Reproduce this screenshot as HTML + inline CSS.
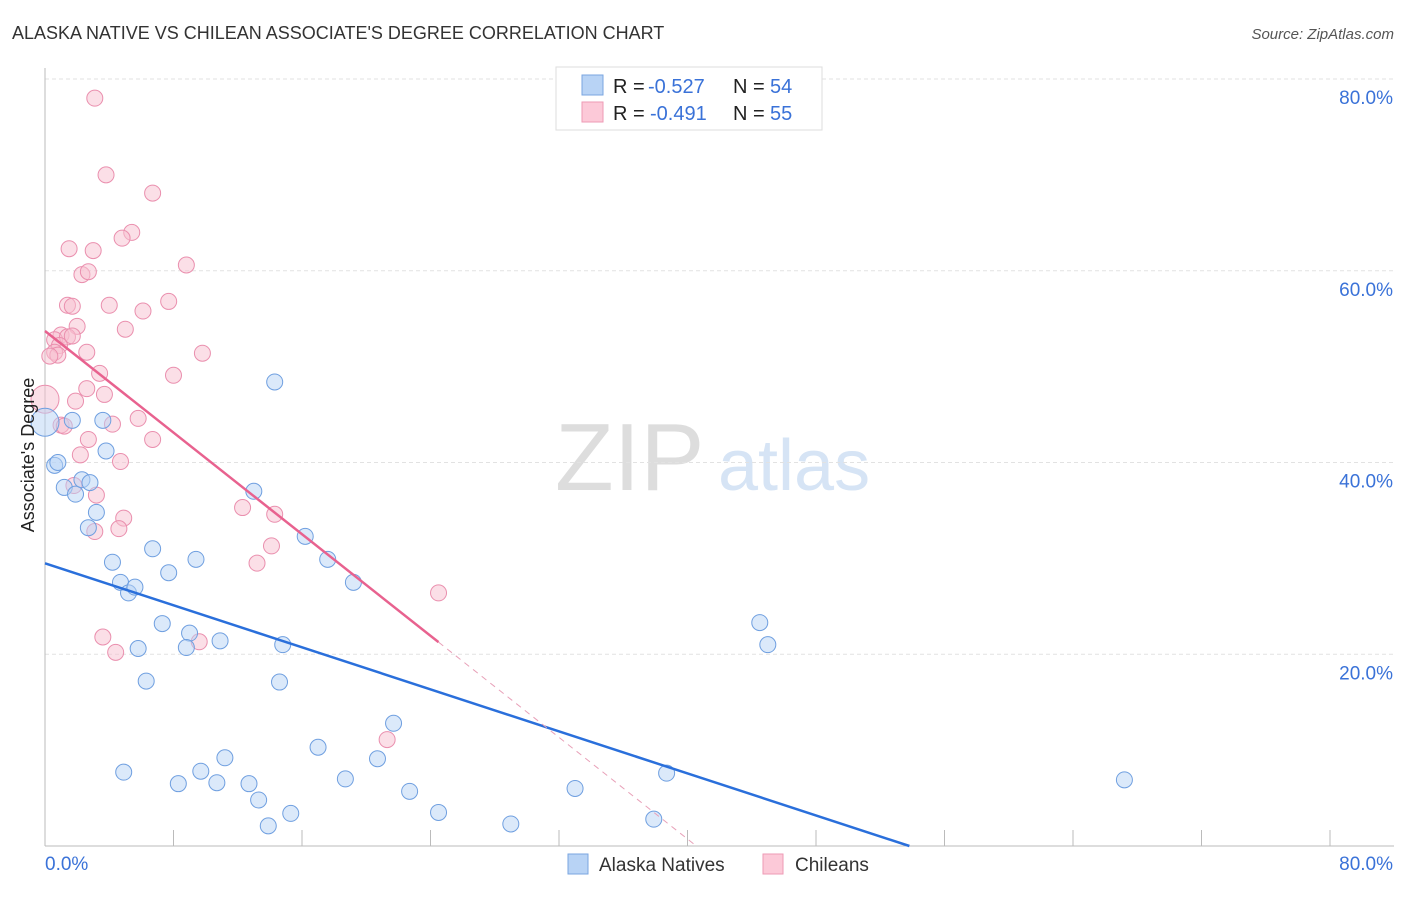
<!DOCTYPE html>
<html><head><meta charset="utf-8"><style>
body{margin:0;background:#fff;font-family:"Liberation Sans",sans-serif;}
svg text{font-family:"Liberation Sans",sans-serif;}
</style></head><body>
<svg id="chart" width="1406" height="892">
<text x="12" y="39" font-size="18" fill="#333">ALASKA NATIVE VS CHILEAN ASSOCIATE'S DEGREE CORRELATION CHART</text>
<text x="1394" y="39" font-size="15" fill="#555" text-anchor="end" font-style="italic">Source: ZipAtlas.com</text>
<text x="555" y="490" font-size="96" fill="#ddd" font-family="Liberation Serif">ZIP</text>
<text x="718" y="490" font-size="72" fill="#d6e4f5">atlas</text>
<g id="grid"></g><g id="marks"></g>
<text x="34" y="455" font-size="18" fill="#222" text-anchor="middle" transform="rotate(-90 34 455)">Associate's Degree</text>
<g>
<rect x="556" y="67" width="266" height="63" fill="#fff" stroke="#ddd"/>
<rect x="582" y="75" width="21" height="20" fill="#b8d3f5" stroke="#7aa6e0"/>
<rect x="582" y="102" width="21" height="20" fill="#fcc9d8" stroke="#ee9ab5"/>
<text x="613" y="93" font-size="20" fill="#222">R =</text>
<text x="648" y="93" font-size="20" fill="#3a72d8">-0.527</text>
<text x="733" y="93" font-size="20" fill="#222">N =</text>
<text x="770" y="93" font-size="20" fill="#3a72d8">54</text>
<text x="613" y="120" font-size="20" fill="#222">R =</text>
<text x="650" y="120" font-size="20" fill="#3a72d8">-0.491</text>
<text x="733" y="120" font-size="20" fill="#222">N =</text>
<text x="770" y="120" font-size="20" fill="#3a72d8">55</text>
</g>
<g>
<rect x="568" y="854" width="20" height="20" fill="#b8d3f5" stroke="#7aa6e0"/>
<text x="599" y="871" font-size="19" fill="#333">Alaska Natives</text>
<rect x="763" y="854" width="20" height="20" fill="#fcc9d8" stroke="#ee9ab5"/>
<text x="795" y="871" font-size="19" fill="#333">Chileans</text>
</g>
</svg>
<script>
const yTicks=[20,40,60,80];
const xTickLabels=["0.0%","80.0%"];
const blueX=[0,0.6,0.8,1.2,1.7,1.9,2.3,2.8,2.7,3.2,3.6,3.8,4.2,4.7,5.2,5.6,5.8,6.3,6.7,7.3,7.7,9.0,8.8,9.4,10.9,4.9,8.3,9.7,10.7,11.2,12.7,13.3,13.9,13.0,14.3,14.8,14.6,16.2,17.6,19.2,17.0,18.7,20.7,21.7,22.7,24.5,29.0,33.0,37.9,38.7,44.5,45.0,67.2,15.3];
const blueY=[44.2,39.7,40.0,37.4,44.4,36.7,38.2,37.9,33.2,34.8,44.4,41.2,29.6,27.5,26.4,27.0,20.6,17.2,31.0,23.2,28.5,22.2,20.7,29.9,21.4,7.7,6.5,7.8,6.6,9.2,6.5,4.8,2.1,37.0,48.4,21.0,17.1,32.3,29.9,27.5,10.3,7.0,9.1,12.8,5.7,3.5,2.3,6.0,2.8,7.6,23.3,21.0,6.9,3.4];
const pinkX=[3.1,3.8,6.7,1.5,3.0,5.4,4.8,8.8,2.3,2.7,1.4,1.7,4.0,6.1,7.7,5.0,2.0,1.0,0.6,1.4,1.7,0.9,0.6,0.8,2.6,9.8,8.0,3.4,1.9,3.7,2.6,5.8,4.2,1.0,2.7,6.7,2.2,4.7,1.8,3.2,4.9,3.1,4.6,12.3,14.3,14.1,13.2,3.6,4.4,9.6,24.5,21.3,0,0.3,1.2];
const pinkY=[78.0,70.0,68.1,62.3,62.1,64.0,63.4,60.6,59.6,59.9,56.4,56.3,56.4,55.8,56.8,53.9,54.2,53.3,52.8,53.1,53.2,52.2,51.5,51.2,51.5,51.4,49.1,49.3,46.4,47.1,47.7,44.6,44.0,43.9,42.4,42.4,40.8,40.1,37.6,36.6,34.2,32.8,33.1,35.3,34.6,31.3,29.5,21.8,20.2,21.3,26.4,11.1,46.6,51.1,43.8];
const x0=45,x1=1330,yb=846,yt=79;
const sx=v=>x0+(x1-x0)*v/80, sy=v=>yb-(yb-yt)*v/80;
const NS="http://www.w3.org/2000/svg";
const grid=document.getElementById('grid'),marks=document.getElementById('marks');
function mk(tag,attrs,parent){const e=document.createElementNS(NS,tag);for(const k in attrs)e.setAttribute(k,attrs[k]);parent.appendChild(e);return e;}
for(const t of yTicks){
 const g=mk('line',{x1:x0,x2:1394,y1:sy(t),y2:sy(t),stroke:'#e2e2e2','stroke-dasharray':'4 3'},grid);
 
 
 const l=mk('text',{x:1393,y:sy(t)+25,'font-size':19,fill:'#3a72d8','text-anchor':'end'},grid);l.textContent=t+'.0%';
 
 
}
const ax=mk('line',{x1:x0,x2:1394,y1:yb,y2:yb,stroke:'#bbb'},grid);


const ay=mk('line',{x1:x0,x2:x0,y1:68,y2:yb,stroke:'#bbb'},grid);


for(let i=0;i<=10;i++){const t=mk('line',{x1:sx(i*8),x2:sx(i*8),y1:yb,y2:yb-16,stroke:'#bbb'},grid);
 
 }
const xl0=mk('text',{x:45,y:870,'font-size':19,fill:'#3a72d8'},grid);xl0.textContent=xTickLabels[0];


const xl1=mk('text',{x:1393,y:870,'font-size':19,fill:'#3a72d8','text-anchor':'end'},grid);xl1.textContent=xTickLabels[1];


function fit(xs,ys){const n=xs.length;let mx=0,my=0;for(let i=0;i<n;i++){mx+=xs[i];my+=ys[i];}mx/=n;my/=n;let a=0,b=0;for(let i=0;i<n;i++){a+=(xs[i]-mx)*(ys[i]-my);b+=(xs[i]-mx)**2;}const s=a/b;return [s,my-s*mx];}
function pts(xs,ys,fill,stroke,name){xs.forEach((v,i)=>{const big=(v===0);const c=mk('circle',{cx:sx(v),cy:sy(ys[i]),r:big?14:8,fill:fill,'fill-opacity':0.5,stroke:stroke,'stroke-width':1},marks);
 
 });}
pts(pinkX,pinkY,'#f8bfd0','#ea8fae','chilean-point');
pts(blueX,blueY,'#b8d3f5','#6f9fe0','alaska-native-point');
let [bs,bi]=fit(blueX,blueY);
let xe=Math.min(80,-bi/bs);
const bl=mk('line',{x1:sx(0),y1:sy(bi),x2:sx(xe),y2:sy(bs*xe+bi),stroke:'#2a6fdb','stroke-width':2.5},marks);


let [ps,pi]=fit(pinkX,pinkY);
const pmax=Math.max(...pinkX), pz=-pi/ps;
const pl=mk('line',{x1:sx(0),y1:sy(pi),x2:sx(pmax),y2:sy(ps*pmax+pi),stroke:'#e8628f','stroke-width':2.5},marks);


const pd=mk('line',{x1:sx(pmax),y1:sy(ps*pmax+pi),x2:sx(pz),y2:sy(0),stroke:'#e8a0b8','stroke-width':1,'stroke-dasharray':'6 5'},marks);


</script>
</body></html>
